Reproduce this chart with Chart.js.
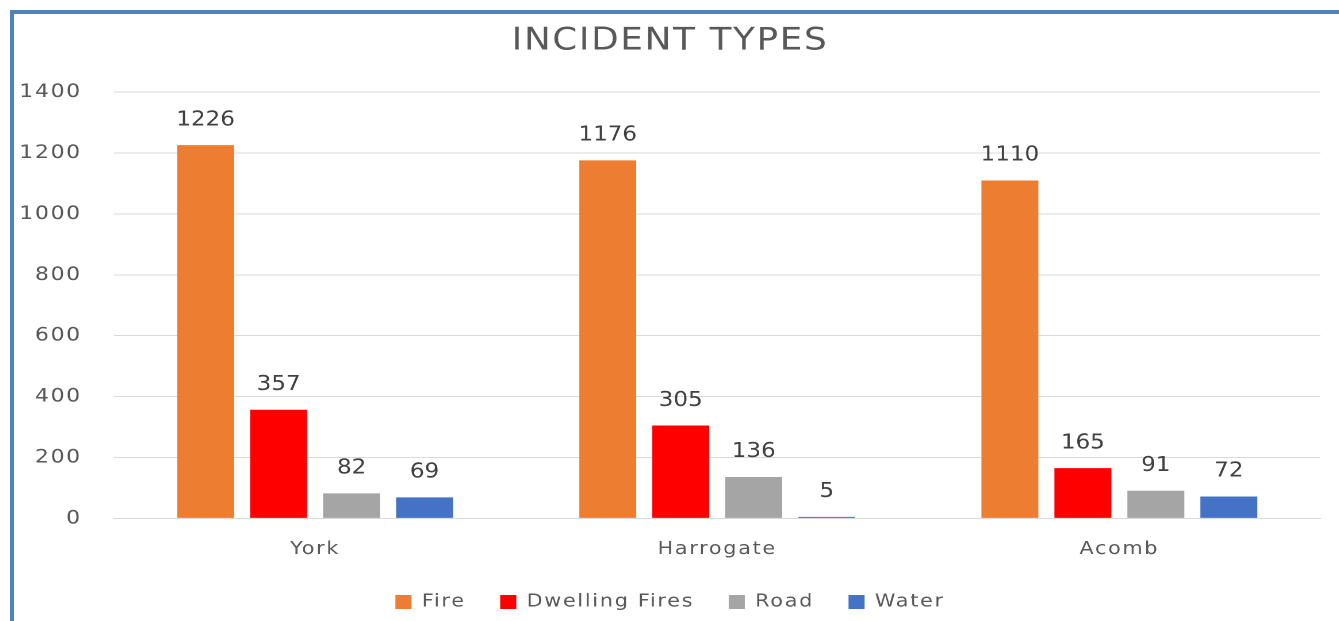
<!DOCTYPE html>
<html>
<head>
<meta charset="utf-8">
<script src="https://cdn.jsdelivr.net/npm/chart.js@4.4.1/dist/chart.umd.min.js"></script>
<style>
  html, body { margin: 0; padding: 0; background: #fff; overflow: hidden; }
  #frame {
    position: absolute; left: 10px; top: 10px;
    width: 1329px; height: 611px;
    border-left: 4px solid #4f81bd; border-top: 4px solid #4f81bd;
  }
  /* o original está esticado na horizontal */
  #chartBox {
    position: absolute; left: 0; top: 0; width: 1152px; height: 607px;
    transform: scaleX(1.15); transform-origin: 0 0;
  }
</style>
</head>
<body>
<div id="frame"><div id="chartBox"><canvas id="incidentChart"></canvas></div></div>
<script>
// --- DADOS ---
const places = ['York', 'Harrogate', 'Acomb'];
const fire = [1226, 1176, 1110];
const dwellingFires = [357, 305, 165];
const road = [82, 136, 91];
const water = [69, 5, 72];
const yTicks = [0, 200, 400, 600, 800, 1000, 1200, 1400];

const FONT = '"DejaVu Sans", sans-serif';

// um pouco de espaço entre letras
const spacing = {
    id: 'spacing',
    beforeUpdate(chart) { chart.ctx.letterSpacing = '1.5px'; },
    beforeDraw(chart) { chart.ctx.letterSpacing = '1.5px'; }
};

// rótulos acima das barras
const barLabels = {
    id: 'barLabels',
    afterDatasetsDraw(chart) {
        const ctx = chart.ctx;
        ctx.save();
        ctx.letterSpacing = '0px';
        ctx.font = '20px ' + FONT;
        ctx.fillStyle = '#404040';
        ctx.textAlign = 'center';
        ctx.textBaseline = 'middle';
        chart.data.datasets.forEach((ds, i) => {
            chart.getDatasetMeta(i).data.forEach((bar, j) => {
                ctx.fillText(ds.data[j], bar.x, bar.y - 25);
            });
        });
        ctx.restore();
    }
};

const ctx = document.getElementById('incidentChart').getContext('2d');
new Chart(ctx, {
    type: 'bar',
    data: {
        labels: places,
        datasets: [
            { label: 'Fire', data: fire, backgroundColor: '#ed7d31' },
            { label: 'Dwelling Fires', data: dwellingFires, backgroundColor: '#ff0000' },
            { label: 'Road', data: road, backgroundColor: '#a5a5a5' },
            { label: 'Water', data: water, backgroundColor: '#4472c4' }
        ]
    },
    options: {
        responsive: true,
        maintainAspectRatio: false,
        animation: false,
        devicePixelRatio: 2,
        datasets: { bar: { categoryPercentage: 0.726, barPercentage: 0.78 } },
        layout: { padding: { left: 5, right: 16, top: 4, bottom: 0 } },
        plugins: {
            title: {
                display: true,
                text: 'INCIDENT TYPES',
                color: '#595959',
                font: { family: FONT, size: 31, weight: 'normal' },
                padding: { top: 5, bottom: 32 }
            },
            legend: {
                position: 'bottom',
                labels: {
                    color: '#595959',
                    font: { family: FONT, size: 18 },
                    boxWidth: 14, boxHeight: 14,
                    padding: 30
                }
            },
            tooltip: { enabled: false }
        },
        scales: {
            y: {
                min: 0, max: 1400,
                afterBuildTicks: (axis) => { axis.ticks = yTicks.map(v => ({ value: v })); },
                afterFit: (scale) => { scale.width = 82; },
                ticks: {
                    color: '#595959', font: { family: FONT, size: 19 }, padding: 28,
                    callback: (v) => String(v)
                },
                grid: { color: '#d9d9d9', drawTicks: false },
                border: { display: false }
            },
            x: {
                afterFit: (scale) => { scale.height -= 17; },
                ticks: { color: '#595959', font: { family: FONT, size: 18 }, padding: 20 },
                grid: { display: false, drawTicks: false },
                border: { color: '#d9d9d9' }
            }
        }
    },
    plugins: [spacing, barLabels]
});
</script>
</body>
</html>
